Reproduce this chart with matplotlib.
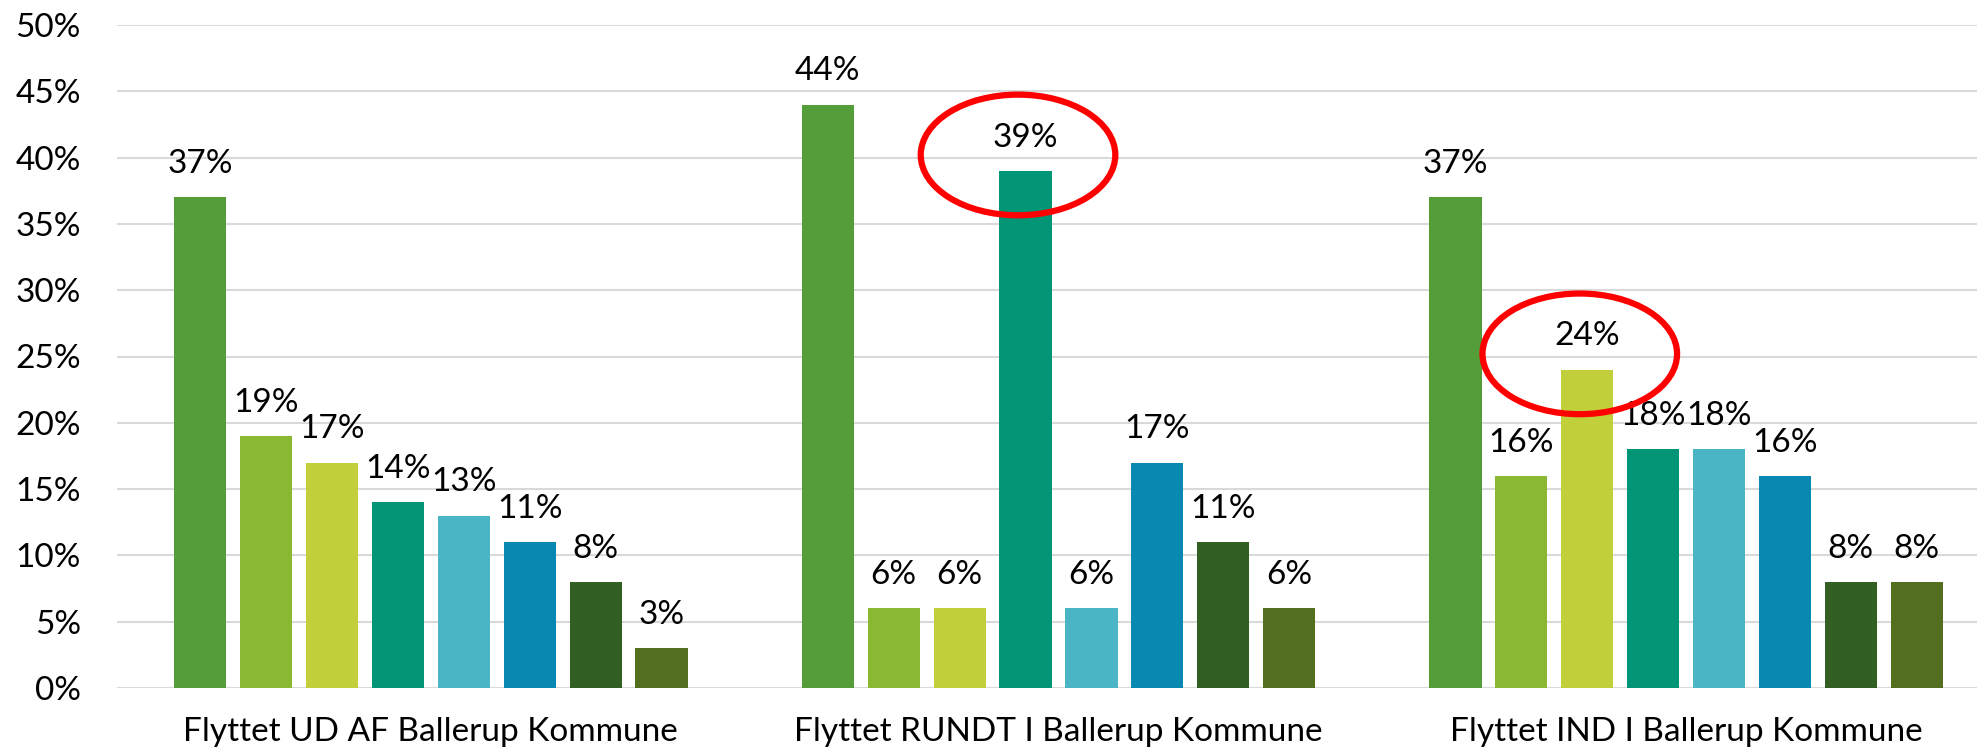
import matplotlib
matplotlib.use("Agg")
import matplotlib.pyplot as plt
from matplotlib.patches import Ellipse
import numpy as np

categories = ["Flyttet UD AF Ballerup Kommune",
              "Flyttet RUNDT I Ballerup Kommune",
              "Flyttet IND I Ballerup Kommune"]
# 8 series per category (percent)
values = [
    [37, 19, 17, 14, 13, 11, 8, 3],
    [44, 6, 6, 39, 6, 17, 11, 6],
    [37, 16, 24, 18, 18, 16, 8, 8],
]
colors = ["#549E39", "#8AB833", "#C0CF3A", "#029676",
          "#4AB5C4", "#0989B1", "#325F22", "#536E1F"]
yticks = [0, 5, 10, 15, 20, 25, 30, 35, 40, 45, 50]
# highlighted (category index, series index)
highlights = [(1, 3), (2, 2)]

plt.rcParams['font.family'] = ['Lato', 'DejaVu Sans']

W, H = 1977, 754
fig = plt.figure(figsize=(W / 100, H / 100), dpi=100)
ax = fig.add_axes([117 / W, 66 / H, (2000 - 117) / W, 663 / H])

n = len(colors)
step = 0.105
bw = 0.083
x = np.arange(len(categories))
fs = 24

for k in range(n):
    xs = x + (k - (n - 1) / 2) * step
    vals = [values[g][k] for g in range(len(categories))]
    ax.bar(xs, vals, width=bw, color=colors[k], zorder=3)
    for xi, v in zip(xs, vals):
        ax.annotate(f"{v}%", (xi, v), xytext=(0, 24), textcoords="offset points",
                    ha="center", va="center", fontsize=fs, color="#000000", zorder=5)

for g, k in highlights:
    xc = x[g] + (k - (n - 1) / 2) * step - 0.012
    yc = values[g][k] + 1.2
    e = Ellipse((xc, yc), width=0.31, height=9.1, fill=False,
                edgecolor="#FF0000", linewidth=4.5, zorder=6)
    ax.add_patch(e)

ax.set_xlim(-0.5, 2.5)
ax.set_ylim(0, 50)
ax.set_yticks(yticks)
ax.set_yticklabels([f"{t}%" for t in yticks], fontsize=fs)
ax.set_xticks(x)
ax.set_xticklabels(categories, fontsize=fs)
ax.tick_params(axis="y", length=0, pad=26)
ax.tick_params(axis="x", length=0, pad=21)
ax.yaxis.grid(True, color="#D9D9D9", linewidth=1.5, zorder=0)
ax.set_axisbelow(True)
for s in ax.spines.values():
    s.set_visible(False)

fig.savefig("out.png", dpi=100)
